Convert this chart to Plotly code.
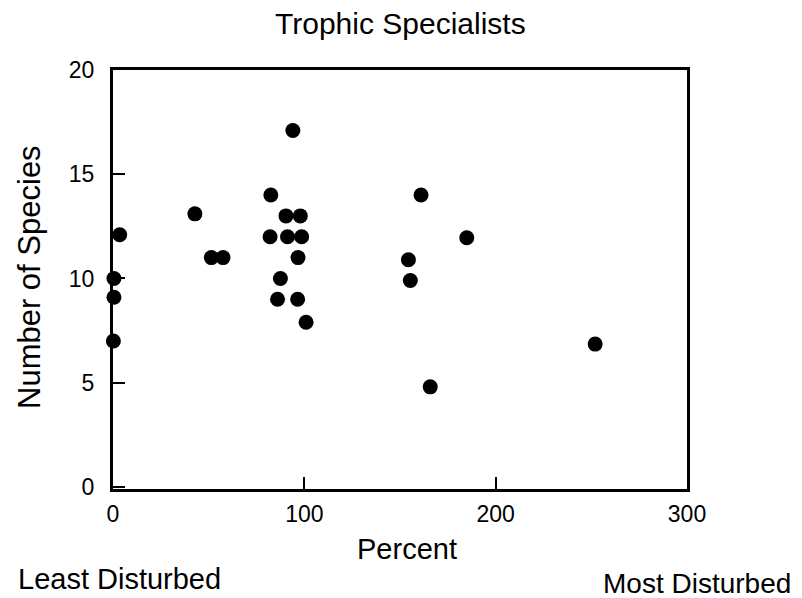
import plotly.graph_objects as go

# Data
percent = [94, 82.5, 42.8, 90.4, 97.9, 3.5, 82.1, 91.2, 98.6, 51.4, 57.5, 96.7,
           0.5, 87.5, 0.5, 86, 96.5, 100.9, 0.2,
           161, 184.9, 154.4, 155.4, 252, 165.8]
species = [17.1, 14, 13.1, 13, 13, 12.1, 12, 12, 12, 11, 11, 11,
           10, 10, 9.1, 9, 9, 7.9, 7,
           14, 11.95, 10.9, 9.9, 6.85, 4.8]

x_ticks = [0, 100, 200, 300]
y_ticks = [0, 5, 10, 15, 20]

FONT = "Liberation Sans, Arial, Helvetica, sans-serif"

# plot-area geometry in pixels
L, R, T, B = 113, 687, 70, 489
W, H = 802, 598


def px(x):
    return (x - L) / (R - L)


def py(y):
    return (B - y) / (B - T)


fig = go.Figure(
    go.Scatter(
        x=percent, y=species, mode="markers",
        marker=dict(size=15, color="black", line=dict(width=0)),
        cliponaxis=False,
        hoverinfo="x+y",
    )
)

axis_common = dict(
    showline=True, linewidth=3, linecolor="black", mirror=True,
    ticks="inside", ticklen=12, tickwidth=2, tickcolor="black",
    showgrid=False, zeroline=False,
    tickfont=dict(family=FONT, size=23, color="black"),
)

fig.update_xaxes(range=[0, 300], tickvals=x_ticks, ticklabelstandoff=2, **axis_common)
fig.update_yaxes(range=[-0.1, 20], tickvals=y_ticks, ticklabelstandoff=11, **axis_common)

annotations = [
    dict(text="Trophic Specialists", x=px(400), y=py(24), size=30,
         xanchor="center", yanchor="middle", angle=0),
    dict(text="Number of Species", x=px(29), y=py(277), size=31,
         xanchor="center", yanchor="middle", angle=-90),
    dict(text="Percent", x=px(407), y=py(549), size=29,
         xanchor="center", yanchor="middle", angle=0),
    dict(text="Least Disturbed", x=px(16), y=py(579), size=29,
         xanchor="left", yanchor="middle", angle=0),
    dict(text="Most Disturbed", x=px(793), y=py(583), size=28,
         xanchor="right", yanchor="middle", angle=0),
]

fig.update_layout(
    width=W, height=H,
    margin=dict(l=L, r=W - R, t=T, b=H - B, pad=0),
    paper_bgcolor="white", plot_bgcolor="white",
    showlegend=False,
    font=dict(family=FONT, color="black"),
    annotations=[
        dict(text=a["text"], x=a["x"], y=a["y"], xref="paper", yref="paper",
             xanchor=a["xanchor"], yanchor=a["yanchor"], textangle=a["angle"],
             showarrow=False, font=dict(family=FONT, size=a["size"], color="black"))
        for a in annotations
    ],
)

fig.write_html(
    "out.html",
    config={"displayModeBar": False},
    post_script="document.body.style.margin='0';document.body.style.overflow='hidden';",
)
